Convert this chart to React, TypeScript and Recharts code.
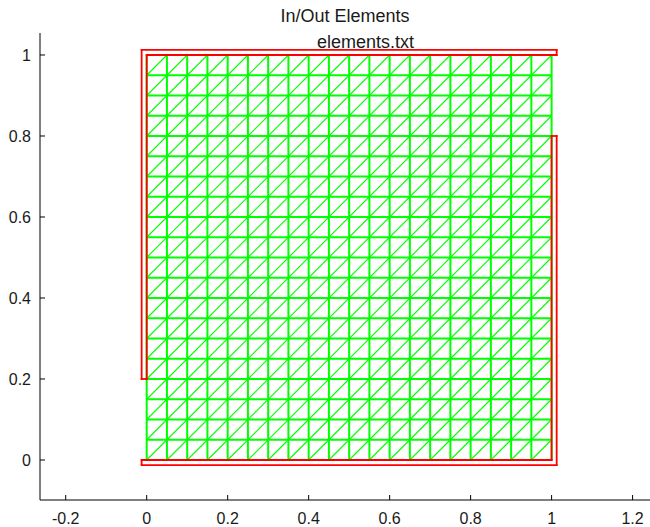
import React from 'react';
import { ComposedChart, XAxis, YAxis, ReferenceLine } from 'recharts';

// mesh node coordinates (20 x 20 cells on the unit square)
const nodes = [
  0, 0.05, 0.1, 0.15, 0.2, 0.25, 0.3, 0.35, 0.4, 0.45, 0.5,
  0.55, 0.6, 0.65, 0.7, 0.75, 0.8, 0.85, 0.9, 0.95, 1,
];

const xTicks = [-0.2, 0, 0.2, 0.4, 0.6, 0.8, 1, 1.2];
const yTicks = [0, 0.2, 0.4, 0.6, 0.8, 1];

// "out" element strips drawn in red, as closed outlines
const outTopLeft = [
  { x: -0.0125, y: 0.2 },
  { x: -0.0125, y: 1.0125 },
  { x: 1.0125, y: 1.0125 },
  { x: 1.0125, y: 1 },
  { x: 0, y: 1 },
  { x: 0, y: 0.2 },
];
const outBottomRight = [
  { x: -0.0125, y: -0.0125 },
  { x: 1.0125, y: -0.0125 },
  { x: 1.0125, y: 0.8 },
  { x: 1, y: 0.8 },
  { x: 1, y: 0 },
  { x: -0.0125, y: 0 },
];

const GREEN = '#00ff00';
const RED = '#ff0000';
const FONT = '"Liberation Sans", Arial, sans-serif';

type Seg = [{ x: number; y: number }, { x: number; y: number }];

function meshSegments() {
  const n = nodes.length - 1;
  const straight: Seg[] = [];
  nodes.forEach((v) => {
    straight.push([{ x: nodes[0], y: v }, { x: nodes[n], y: v }]);
    straight.push([{ x: v, y: nodes[0] }, { x: v, y: nodes[n] }]);
  });
  const diag: Seg[] = [];
  for (let k = -(n - 1); k <= n - 1; k++) {
    const a = Math.max(0, k);
    const b = Math.max(0, -k);
    const len = n - Math.abs(k);
    diag.push([{ x: nodes[a], y: nodes[b] }, { x: nodes[a + len], y: nodes[b + len] }]);
  }
  return { straight, diag };
}

function outline(pts: { x: number; y: number }[]): Seg[] {
  return pts.map((p, i) => [p, pts[(i + 1) % pts.length]] as Seg);
}

const XTick = (props: any) => {
  const { x, y, payload } = props;
  return (
    <g>
      <line x1={x} y1={y} x2={x} y2={y - 5} stroke="#000" />
      <text x={x} y={y + 24} textAnchor="middle" fontSize={16} fontFamily={FONT} fill="#1a1a1a">
        {String(payload.value)}
      </text>
    </g>
  );
};

const YTick = (props: any) => {
  const { x, y, payload } = props;
  return (
    <g>
      <line x1={x} y1={y} x2={x + 5} y2={y} stroke="#000" />
      <text x={x - 9} y={y + 6} textAnchor="end" fontSize={16} fontFamily={FONT} fill="#1a1a1a">
        {String(payload.value)}
      </text>
    </g>
  );
};

export default function App() {
  const { straight, diag } = meshSegments();
  const red = [...outline(outTopLeft), ...outline(outBottomRight)];
  return (
    <div style={{ position: 'absolute', left: 0, top: 0, width: 650, height: 527, background: '#fff' }}>
      <div
        style={{
          position: 'absolute', left: 0, width: 690, top: 6, textAlign: 'center',
          fontFamily: FONT, fontSize: 18, color: '#1a1a1a', lineHeight: '20px',
        }}
      >
        In/Out Elements
      </div>
      <div
        style={{
          position: 'absolute', left: 317, top: 32, fontFamily: FONT, fontSize: 18,
          color: '#1a1a1a', lineHeight: '20px',
        }}
      >
        elements.txt
      </div>
      <ComposedChart width={650} height={527} margin={{ top: 33, right: 0, bottom: 0, left: 0 }}>
        <XAxis
          type="number"
          dataKey="x"
          domain={[-0.2635, 1.243]}
          ticks={xTicks}
          allowDataOverflow
          height={27}
          tickSize={0}
          tickMargin={0}
          tick={<XTick />}
          axisLine={{ stroke: '#000' }}
          interval={0}
        />
        <YAxis
          type="number"
          dataKey="y"
          domain={[-0.0988, 1.0543]}
          ticks={yTicks}
          allowDataOverflow
          width={40}
          tickSize={0}
          tickMargin={0}
          tick={<YTick />}
          axisLine={{ stroke: '#000' }}
          interval={0}
        />
        {diag.map((s, i) => (
          <ReferenceLine key={'d' + i} segment={s} stroke={GREEN} strokeWidth={1.1} ifOverflow="visible" />
        ))}
        {straight.map((s, i) => (
          <ReferenceLine key={'s' + i} segment={s} stroke={GREEN} strokeWidth={2} ifOverflow="visible" />
        ))}
        {red.map((s, i) => (
          <ReferenceLine key={'r' + i} segment={s} stroke={RED} strokeWidth={1.8} strokeLinecap="square" ifOverflow="visible" />
        ))}
      </ComposedChart>
    </div>
  );
}
